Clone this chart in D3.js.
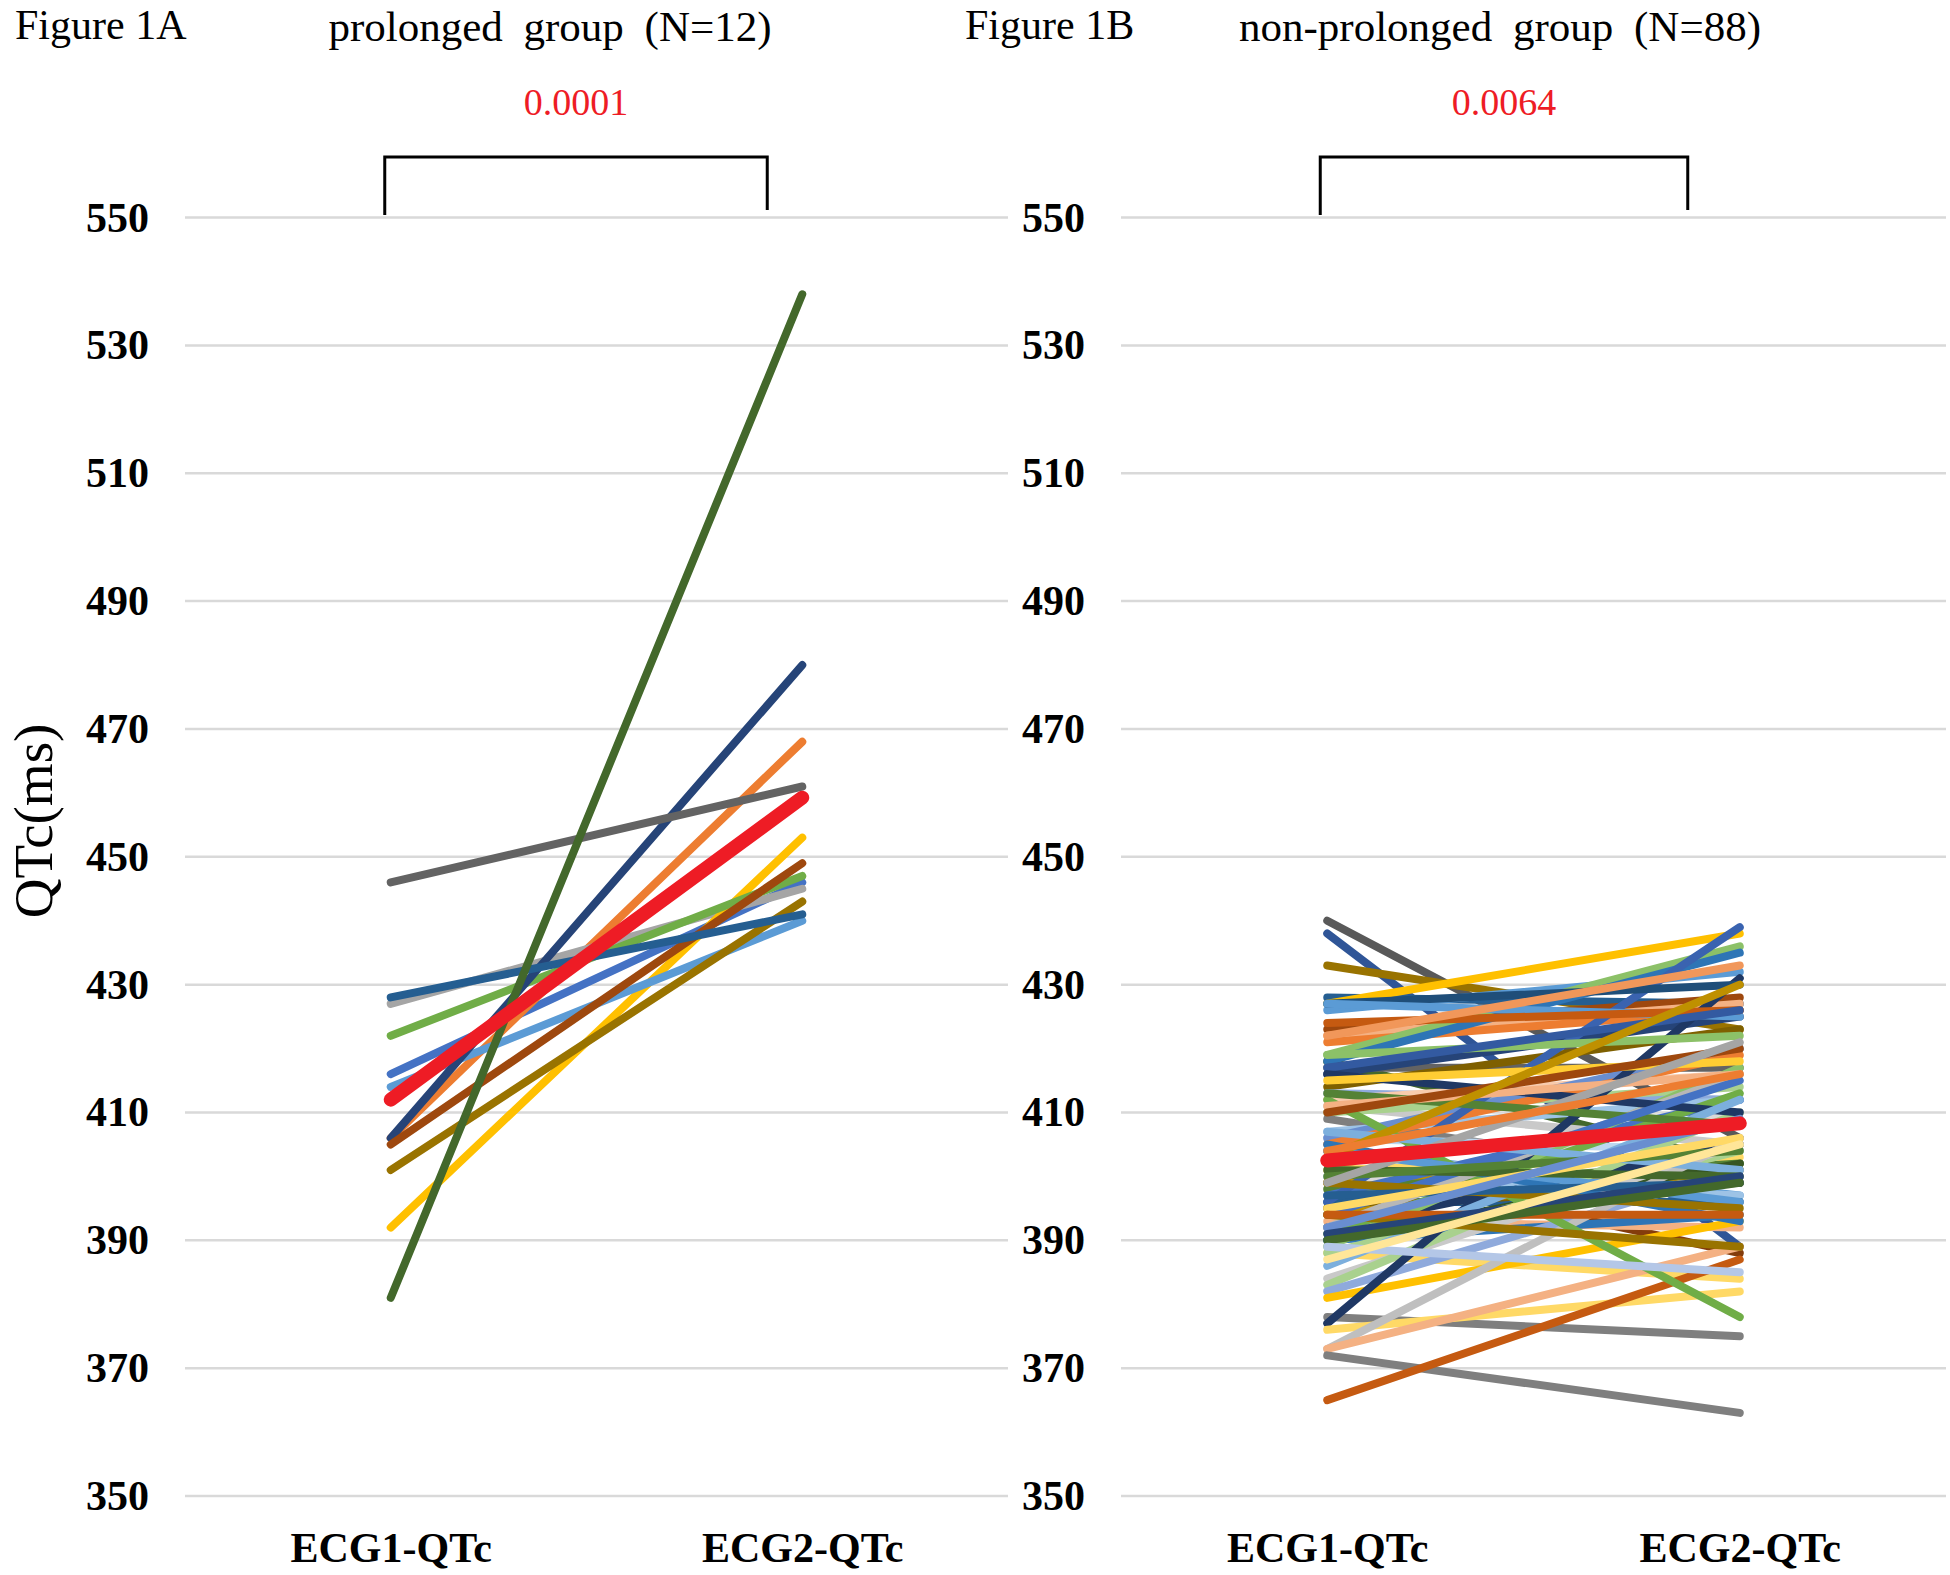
<!DOCTYPE html>
<html>
<head>
<meta charset="utf-8">
<script src="https://cdn.jsdelivr.net/npm/d3@7"></script>
<style>
  body { margin: 0; background: #fff; }
  text { font-family: 'Liberation Serif', 'Times New Roman', serif; }
</style>
</head>
<body>
<svg id="chart" width="1950" height="1575"></svg>
<script>
const categories = ['ECG1-QTc', 'ECG2-QTc'];
const yTicks = [350, 370, 390, 410, 430, 450, 470, 490, 510, 530, 550];

// Figure 1A: prolonged group, one pair per patient
const ecg1A = [416, 406, 427, 392, 414, 422, 406, 405, 446, 401, 428, 381];
const ecg2A = [446, 468, 445, 453, 440, 447, 480, 449, 461, 443, 441, 538];
const colorsA = ['#4472C4', '#ED7D31', '#A5A5A5', '#FFC000', '#5B9BD5', '#70AD47',
  '#264478', '#9E480E', '#636363', '#997300', '#255E91', '#43682B'];

// Figure 1B: non-prolonged group
const ecg1B = [440, 438, 433, 428, 427, 426, 423, 422, 421, 419, 418, 418, 417, 416, 414, 413,
  412, 411, 410, 409, 407, 406, 406, 405, 404, 402, 401, 400, 399, 398, 398, 397,
  396, 395, 394, 393, 392, 391, 390, 390, 389, 388, 388, 384, 383, 382, 381, 378,
  377, 376, 373, 373, 372, 365, 396, 412, 427, 427, 424, 422, 392, 419, 417, 416,
  415, 386, 413, 411, 410, 394, 407, 405, 404, 403, 401, 400, 399, 397, 395, 394,
  394, 392, 391, 390, 389, 387, 399, 404];
const ecg2B = [406, 389, 423, 427, 438, 432, 428, 427, 426, 436, 402, 435, 417, 425, 423, 412,
  416, 405, 414, 399, 412, 404, 420, 419, 397, 388, 403, 397, 401, 410, 402, 412,
  396, 399, 401, 392, 405, 413, 402, 394, 417, 384, 404, 405, 410, 401, 393, 375,
  431, 382, 406, 389, 363, 387, 439, 378, 430, 425, 426, 433, 416, 422, 426, 410,
  418, 412, 408, 416, 420, 415, 401, 393, 396, 430, 400, 404, 395, 399, 406, 389,
  394, 409, 400, 399, 385, 405, 421, 416];
const colorsB = ['#595959', '#2F5597', '#997300', '#255E91', '#FFC000', '#5B9BD5', '#9E480E', '#F4B183',
  '#ED7D31', '#8CC168', '#43682B', '#2E75B6', '#636363', '#264478', '#7F6000', '#8FAADC',
  '#F8CBAD', '#C9C9C9', '#A9D18E', '#7F7F7F', '#9DC3E6', '#BDD7EE', '#698ED0', '#ED7D31',
  '#5B9BD5', '#843C0C', '#FFD966', '#9DC3E6', '#BF9000', '#D9D9D9', '#548235', '#4472C4',
  '#255E91', '#7F6000', '#BF9000', '#F4B183', '#1F3864', '#70AD47', '#375623', '#2E75B6',
  '#8CC168', '#FFD966', '#A9D18E', '#C9C9C9', '#A9D18E', '#8FAADC', '#FFC000', '#7F7F7F',
  '#1F3864', '#FFD966', '#BFBFBF', '#F4B183', '#7F7F7F', '#C55A11', '#3A63B0', '#70AD47',
  '#1F4E79', '#5B9BD5', '#C55A11', '#F1975A', '#B7B7B7', '#8CC168', '#335AA1', '#1F3864',
  '#FFCD33', '#7CAFDD', '#548235', '#F4B183', '#9E480E', '#4472C4', '#7CAFDD', '#2E75B6',
  '#5B9BD5', '#BF9000', '#43682B', '#548235', '#997300', '#255E91', '#FFD966', '#997300',
  '#C55A11', '#698ED0', '#264478', '#43682B', '#B4C7E7', '#FFE699', '#A5A5A5', '#ED7D31'];

/** One panel: gridlines, value axis, paired lines, mean line and bracket. */
class PairedPanel {
  constructor(svg, opts) {
    this.svg = svg;
    this.opts = opts;
    this.y = d3.scaleLinear().domain([350, 550]).range([1496, 217.6]);
    this.x = d3.scalePoint().domain(categories).range([opts.x0, opts.x1]).padding(0.5);
    this.render();
  }

  render() {
    const o = this.opts;
    const g = this.svg.append('g');

    // gridlines
    g.append('g')
      .selectAll('line')
      .data(yTicks)
      .join('line')
      .attr('x1', o.x0)
      .attr('x2', o.x1)
      .attr('y1', d => this.y(d))
      .attr('y2', d => this.y(d))
      .attr('stroke', '#D9D9D9')
      .attr('stroke-width', 2.5);

    // y axis labels, no domain line
    const yAxis = g.append('g')
      .attr('transform', `translate(${o.x0 - 36},0)`)
      .call(d3.axisLeft(this.y).tickValues(yTicks).tickSize(0).tickPadding(0));
    yAxis.select('.domain').remove();
    yAxis.selectAll('text')
      .attr('font-family', "'Liberation Serif', serif")
      .attr('font-weight', 'bold')
      .attr('font-size', 42)
      .attr('fill', '#000');

    // category labels
    const xAxis = g.append('g')
      .attr('transform', 'translate(0,1562)')
      .call(d3.axisBottom(this.x).tickSize(0).tickPadding(0));
    xAxis.select('.domain').remove();
    xAxis.selectAll('text')
      .attr('dy', 0)
      .attr('font-family', "'Liberation Serif', serif")
      .attr('font-weight', 'bold')
      .attr('font-size', 42)
      .attr('fill', '#000');

    // one line per patient
    const pairs = o.before.map((v, i) => ({ values: [v, o.after[i]], color: o.colors[i] }));
    const line = d3.line()
      .x((d, i) => this.x(categories[i]))
      .y(d => this.y(d));

    g.append('g')
      .selectAll('path')
      .data(pairs)
      .join('path')
      .attr('fill', 'none')
      .attr('stroke', d => d.color)
      .attr('stroke-width', 8)
      .attr('stroke-linecap', 'round')
      .attr('d', d => line(d.values));

    // mean line on top
    const mean = [d3.mean(o.before), d3.mean(o.after)];
    g.append('path')
      .attr('fill', 'none')
      .attr('stroke', '#EE1C25')
      .attr('stroke-width', 14)
      .attr('stroke-linecap', 'round')
      .attr('d', line(mean));

    // significance bracket
    const bx1 = this.x(categories[0]) + o.bracket[0];
    const bx2 = this.x(categories[1]) + o.bracket[1];
    g.append('path')
      .attr('fill', 'none')
      .attr('stroke', '#000')
      .attr('stroke-width', 3)
      .attr('d', `M${bx1},215 V157 H${bx2} V210`);

    g.append('text')
      .text(o.p)
      .attr('x', (bx1 + bx2) / 2)
      .attr('y', 115)
      .attr('text-anchor', 'middle')
      .attr('font-size', 38)
      .attr('fill', '#EE1C25');

    // headings
    g.append('text')
      .text(o.figure)
      .attr('x', o.figureX)
      .attr('y', 39)
      .attr('font-size', 42);

    g.append('text')
      .text(o.title)
      .attr('x', o.titleX)
      .attr('y', 41)
      .attr('text-anchor', 'middle')
      .attr('word-spacing', 10)
      .attr('font-size', 43);
  }
}

const svg = d3.select('#chart');

new PairedPanel(svg, {
  x0: 185, x1: 1008,
  before: ecg1A, after: ecg2A, colors: colorsA,
  bracket: [-6, -35], p: '0.0001',
  figure: 'Figure 1A', figureX: 15,
  title: 'prolonged group (N=12)', titleX: 550
});

new PairedPanel(svg, {
  x0: 1121, x1: 1946,
  before: ecg1B, after: ecg2B, colors: colorsB,
  bracket: [-7, -52], p: '0.0064',
  figure: 'Figure 1B', figureX: 965,
  title: 'non-prolonged group (N=88)', titleX: 1500
});

// shared y axis title
svg.append('text')
  .text('QTc(ms)')
  .attr('transform', 'translate(52,821) rotate(-90)')
  .attr('text-anchor', 'middle')
  .attr('font-size', 55);
</script>
</body>
</html>
